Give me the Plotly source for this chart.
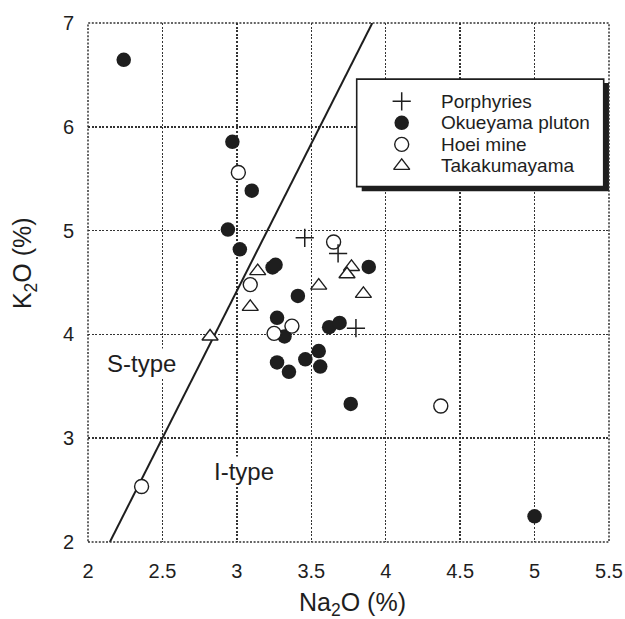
import plotly.graph_objects as go

# ---- data ----
porph_x = [3.456, 3.68, 3.80]
porph_y = [4.93, 4.78, 4.06]

okue_x = [2.24, 2.97, 3.10, 2.94, 3.02, 3.24, 3.26, 3.886, 3.41, 3.27,
          3.32, 3.62, 3.69, 3.27, 3.35, 3.46, 3.55, 3.56, 3.765, 5.00]
okue_y = [6.645, 5.855, 5.385, 5.01, 4.82, 4.645, 4.67, 4.65, 4.37, 4.16,
          3.98, 4.07, 4.11, 3.73, 3.64, 3.76, 3.84, 3.69, 3.33, 2.247]

hoei_x = [3.01, 3.65, 3.09, 3.37, 3.25, 4.37, 2.36]
hoei_y = [5.56, 4.89, 4.48, 4.08, 4.01, 3.31, 2.535]

taka_x = [3.14, 3.77, 3.74, 3.55, 3.85, 3.09, 2.82]
taka_y = [4.61, 4.65, 4.58, 4.47, 4.39, 4.265, 3.98]

line_x = [2.147, 3.91]
line_y = [2.0, 7.0]

series_names = ["Porphyries", "Okueyama pluton", "Hoei mine", "Takakumayama"]
x_ticks = [2, 2.5, 3, 3.5, 4, 4.5, 5, 5.5]
y_ticks = [2, 3, 4, 5, 6, 7]

FONT = "Liberation Sans, Arial, sans-serif"
INK = "#1e1e1e"
GRID = "#333333"
PIC_W, PIC_H = 625, 619
SX = 0.984                      # observed horizontal capture scale
W, H = round(PIC_W / SX), PIC_H
# plot area in picture pixels
L, R, T, B = 86.3, 607.3, 20.7, 541.7
PW, PH = R - L, B - T


def px2paper_x(px):
    return (px - L) / PW


def px2paper_y(py):
    return (B - py) / PH


styles = {
    "Porphyries": dict(symbol="cross-thin", size=13, color=INK,
                       line=dict(color=INK, width=1.5)),
    "Okueyama pluton": dict(symbol="circle", size=14.5, color=INK,
                            line=dict(color=INK, width=0)),
    "Hoei mine": dict(symbol="circle", size=14, color="white",
                      line=dict(color=INK, width=1.4)),
    "Takakumayama": dict(symbol="triangle-up", size=14, color="white",
                         line=dict(color=INK, width=1.4)),
}

fig = go.Figure()

fig.add_trace(go.Scatter(x=line_x, y=line_y, mode="lines",
                         line=dict(color=INK, width=2), showlegend=False,
                         hoverinfo="skip"))

data = {
    "Okueyama pluton": (okue_x, okue_y),
    "Hoei mine": (hoei_x, hoei_y),
    "Takakumayama": (taka_x, taka_y),
    "Porphyries": (porph_x, porph_y),
}
for name, (xs, ys) in data.items():
    fig.add_trace(go.Scatter(x=xs, y=ys, mode="markers", name=name,
                             marker=styles[name], showlegend=False))

# ---- manual legend on a second (stacked) subplot ----
row0_py, row_step = 99.3, 21.6
p0 = px2paper_y(row0_py)
pstep = row_step / PH
y2_range = [p0 / pstep, (p0 - 1) / pstep]


def px2y2(py):
    return (p0 - px2paper_y(py)) / pstep


sym_x = px2paper_x(400)
txt_x = px2paper_x(437)
for i, name in enumerate(series_names):
    fig.add_trace(go.Scatter(x=[sym_x], y=[i], mode="markers",
                             marker=styles[name], xaxis="x2", yaxis="y2",
                             showlegend=False, hoverinfo="skip"))

annotations = []
for i, name in enumerate(series_names):
    annotations.append(dict(x=txt_x, y=i, xref="x2", yref="y2", text=name,
                            showarrow=False, xanchor="left", yanchor="middle",
                            font=dict(family=FONT, size=19, color=INK)))

annotations += [
    dict(x=2.36, y=3.72, xref="x", yref="y", text="S-type", showarrow=False,
         xanchor="center", yanchor="middle",
         font=dict(family=FONT, size=24, color=INK), bgcolor="white",
         borderpad=1),
    dict(x=3.05, y=2.68, xref="x", yref="y", text="I-type", showarrow=False,
         xanchor="center", yanchor="middle",
         font=dict(family=FONT, size=24, color=INK), bgcolor="white",
         borderpad=1),
    dict(x=px2paper_x(351), y=px2paper_y(604), xref="paper", yref="paper",
         text="Na<sub>2</sub>O (%)", showarrow=False,
         xanchor="center", yanchor="middle",
         font=dict(family=FONT, size=25, color=INK)),
    dict(x=px2paper_x(23), y=px2paper_y(262), xref="paper", yref="paper",
         text="K<sub>2</sub>O (%)", showarrow=False, textangle=-90,
         xanchor="center", yanchor="middle",
         font=dict(family=FONT, size=25, color=INK)),
]

DASH = "2px,1.6px"
shapes = [
    dict(type="rect", xref="paper", yref="paper", x0=0, x1=1, y0=0, y1=1,
         line=dict(color=GRID, width=1.5, dash=DASH), layer="above"),
    # legend shadow
    dict(type="rect", xref="x2", yref="y2",
         x0=px2paper_x(360), x1=px2paper_x(608),
         y0=px2y2(189.5), y1=px2y2(81),
         fillcolor=INK, line=dict(width=0), layer="below"),
    # legend box
    dict(type="rect", xref="x2", yref="y2",
         x0=px2paper_x(355), x1=px2paper_x(602),
         y0=px2y2(185), y1=px2y2(77),
         fillcolor="white", line=dict(color=INK, width=1.6), layer="below"),
]

fig.update_layout(
    width=W, height=H,
    margin=dict(l=L / SX, r=W - R / SX, t=T, b=H - B, pad=0),
    paper_bgcolor="white", plot_bgcolor="rgba(0,0,0,0)",
    font=dict(family=FONT, color=INK),
    showlegend=False,
    xaxis=dict(range=[2, 5.5], tickvals=x_ticks,
               ticktext=[f"{v:g}" for v in x_ticks],
               showgrid=True, gridcolor=GRID, gridwidth=1.5,
               griddash=DASH, zeroline=False, showline=False, ticks="",
               tickfont=dict(family=FONT, size=20, color=INK),
               ticklabelstandoff=15, domain=[0, 1], anchor="y"),
    yaxis=dict(range=[2, 7], tickvals=y_ticks,
               ticktext=[f"{v:g}" for v in y_ticks],
               showgrid=True, gridcolor=GRID, gridwidth=1.5,
               griddash=DASH, zeroline=False, showline=False, ticks="",
               tickfont=dict(family=FONT, size=20, color=INK),
               ticklabelstandoff=13, domain=[0, 1], anchor="x"),
    xaxis2=dict(range=[0, 1], domain=[0, 1], anchor="y2", visible=False,
                fixedrange=True),
    yaxis2=dict(range=y2_range, domain=[0, 1], anchor="x2",
                visible=False, fixedrange=True),
    annotations=annotations,
    shapes=shapes,
)

post = """
document.documentElement.style.margin='0';
document.documentElement.style.padding='0';
document.documentElement.style.overflow='hidden';
document.body.style.margin='0';
document.body.style.padding='0';
document.body.style.overflow='hidden';
var gd = document.getElementById('{plot_id}');
gd.style.position='absolute';
gd.style.left='0px';
gd.style.top='0px';
"""

fig.write_html("out.html", post_script=post,
               config={"displayModeBar": False, "staticPlot": True})
